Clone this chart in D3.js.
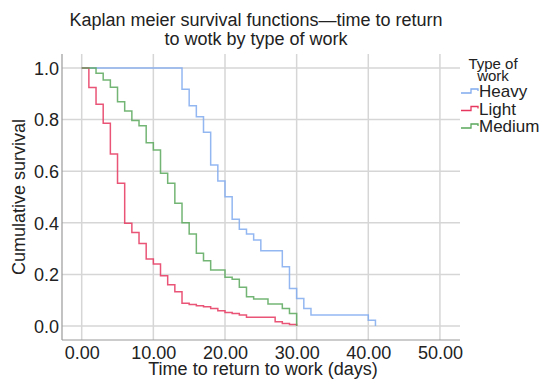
<!DOCTYPE html>
<html>
<head>
<meta charset="utf-8">
<script src="https://cdn.jsdelivr.net/npm/d3@7"></script>
<style>
  body { margin: 0; background: #fff; }
  svg text { font-family: "Liberation Sans", Arial, Helvetica, sans-serif; fill: #222; }
  .grid line { stroke: #d6d6d6; stroke-width: 1.5; }
  .km { fill: none; stroke-width: 1.5; stroke-opacity: 0.85; }
</style>
</head>
<body>
<svg width="539" height="379"></svg>
<script>
// Kaplan-Meier step data (day, cumulative survival)
var heavyDays = [0, 14, 15, 16, 17, 18, 19, 20, 21, 22, 23, 24, 25, 28, 29, 30, 31, 32, 40, 41];
var heavySurv = [1, 0.917, 0.854, 0.811, 0.751, 0.624, 0.562, 0.501, 0.414, 0.375, 0.357, 0.333, 0.292, 0.230, 0.146, 0.107, 0.068, 0.043, 0.023, 0];

var lightDays = [0, 1, 2, 3, 4, 5, 6, 7, 8, 9, 10, 11, 12, 13, 14, 15, 16, 17, 18, 19, 20, 21, 22, 23, 27, 28, 29, 30];
var lightSurv = [1, 0.924, 0.859, 0.786, 0.667, 0.553, 0.398, 0.362, 0.320, 0.260, 0.240, 0.195, 0.160, 0.133, 0.088, 0.084, 0.079, 0.075, 0.068, 0.059, 0.053, 0.049, 0.043, 0.034, 0.017, 0.010, 0.006, 0];

var mediumDays = [0, 2, 3, 4, 5, 6, 7, 8, 9, 10, 11, 12, 13, 14, 15, 16, 17, 18, 20, 21, 22, 23, 24, 26, 28, 29, 30];
var mediumSurv = [1, 0.979, 0.953, 0.925, 0.869, 0.833, 0.796, 0.776, 0.710, 0.682, 0.592, 0.553, 0.476, 0.400, 0.357, 0.282, 0.253, 0.217, 0.189, 0.181, 0.150, 0.114, 0.105, 0.085, 0.068, 0.049, 0];

var groups = ["Heavy", "Light", "Medium"];
var colors = ["#80aaee", "#e6375f", "#5aa85c"];
var xTicks = [0, 10, 20, 30, 40, 50];
var yTicks = [0, 0.2, 0.4, 0.6, 0.8, 1.0];

var svg = d3.select("svg");

// plot box (named so they don't clash with window.top)
var box = {left: 62, right: 460, top: 54, bottom: 340};

var x = d3.scaleLinear().domain([-2.75, 52.8]).range([box.left, box.right]);
var y = d3.scaleLinear().domain([-0.054, 1.054]).range([box.bottom, box.top]);

// gridlines
var grid = svg.append("g").attr("class", "grid");
grid.selectAll(".gx").data(xTicks).enter().append("line")
    .attr("x1", function(d) { return x(d); }).attr("x2", function(d) { return x(d); })
    .attr("y1", box.top).attr("y2", box.bottom);
grid.selectAll(".gy").data(yTicks).enter().append("line")
    .attr("x1", box.left).attr("x2", box.right)
    .attr("y1", function(d) { return y(d); }).attr("y2", function(d) { return y(d); });

// axes
var xAxis = svg.append("g")
    .attr("transform", "translate(0," + box.bottom + ")")
    .call(d3.axisBottom(x).tickValues(xTicks).tickSize(0).tickPadding(6).tickFormat(d3.format(".2f")));
var yAxis = svg.append("g")
    .attr("transform", "translate(" + box.left + ",0)")
    .call(d3.axisLeft(y).tickValues(yTicks).tickSize(0).tickPadding(3).tickFormat(d3.format(".1f")));

[xAxis, yAxis].forEach(function(a) {
  a.select(".domain").attr("stroke", "#9a9a9a").attr("stroke-width", 1.2);
  a.selectAll("text").style("font-size", "18px").attr("fill", "#222");
});
xAxis.select(".domain").attr("d", "M" + box.left + ",0H" + box.right);
yAxis.select(".domain").attr("d", "M0," + box.top + "V" + box.bottom);
yAxis.selectAll("text").attr("dy", "0.35em");

// survival curves
var series = [
  {name: "Heavy", days: heavyDays, surv: heavySurv},
  {name: "Light", days: lightDays, surv: lightSurv},
  {name: "Medium", days: mediumDays, surv: mediumSurv}
];

var line = d3.line()
    .x(function(d) { return x(d[0]); })
    .y(function(d) { return y(d[1]); })
    .curve(d3.curveStepAfter);

series.forEach(function(s, i) {
  var pts = s.days.map(function(d, j) { return [d, s.surv[j]]; });
  svg.append("path")
      .attr("class", "km")
      .attr("d", line(pts))
      .attr("stroke", colors[i]);
});

// titles
svg.append("text").attr("x", 256).attr("y", 26).attr("text-anchor", "middle")
    .style("font-size", "18px").attr("fill", "#333")
    .text("Kaplan meier survival functions\u2014time to return");
svg.append("text").attr("x", 256).attr("y", 45).attr("text-anchor", "middle")
    .style("font-size", "18px").attr("fill", "#333")
    .text("to wotk by type of work");

svg.append("text").attr("x", 263).attr("y", 375).attr("text-anchor", "middle")
    .style("font-size", "18px")
    .text("Time to return to work (days)");

svg.append("text")
    .attr("transform", "translate(25," + ((box.top + box.bottom) / 2) + ") rotate(-90)")
    .attr("text-anchor", "middle")
    .style("font-size", "18px")
    .text("Cumulative survival");

// legend
var legend = svg.append("g");
legend.append("text").attr("x", 493).attr("y", 69).attr("text-anchor", "middle")
    .style("font-size", "15px").text("Type of");
legend.append("text").attr("x", 493).attr("y", 81).attr("text-anchor", "middle")
    .style("font-size", "15px").text("work");

groups.forEach(function(g, i) {
  var ly = 91 + i * 17.5;
  legend.append("path")
      .attr("d", "M461," + (ly + 2) + "H471V" + (ly - 2) + "H478V" + ly)
      .attr("fill", "none").attr("stroke", colors[i]).attr("stroke-width", 1.3);
  legend.append("text").attr("x", 479).attr("y", ly + 6)
      .style("font-size", "17px").text(g);
});
</script>
</body>
</html>
